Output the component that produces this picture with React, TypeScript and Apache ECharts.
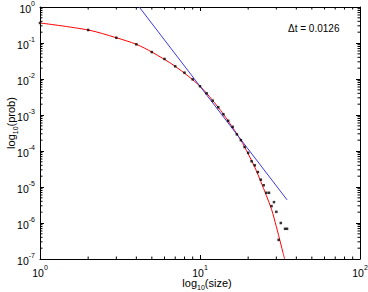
import React, { useEffect, useRef } from "react";
import * as echarts from "echarts";

const sizes = [1, 2, 3, 4, 5, 6, 7, 8, 9, 10, 11, 12, 13, 14, 15, 16, 17, 18, 19, 20, 21, 22, 23, 24, 25, 26, 27, 28, 29, 30, 31, 32, 34, 35];
const probs = [0.36, 0.23, 0.14, 0.092, 0.056, 0.036, 0.0225, 0.015, 0.0098, 0.0063, 0.004, 0.0025, 0.00164, 0.00105, 6.9e-4, 4.7e-4, 2.9e-4, 2.0e-4, 1.29e-4, 8.9e-5, 5.2e-5, 4.0e-5, 2.6e-5, 1.6e-5, 1.12e-5, 6.9e-6, 6.9e-6, 2.95e-6, 3.8e-6, 2.04e-6, 3.4e-7, 1.0e-6, 6.9e-7, 6.9e-7];

const fitX = [1, 2, 3, 4, 5, 7, 10, 13, 15, 18, 20, 22, 24, 26, 28, 30, 32, 33, 33.8];
const fitY = [0.36, 0.23, 0.14, 0.092, 0.056, 0.0225, 0.0063, 0.00163, 6.8e-4, 2.0e-4, 8.3e-5, 3.55e-5, 1.41e-5, 5.75e-6, 2.4e-6, 7.9e-7, 2.6e-7, 1.5e-7, 1.0e-7];

const powX = [4.17, 35];
const powY = [1, 4.4e-6];

const xMinorTicks = [2, 3, 4, 5, 6, 7, 8, 9, 20, 30, 40, 50, 60, 70, 80, 90];
const yDecades = [1e-7, 1e-6, 1e-5, 1e-4, 1e-3, 1e-2, 1e-1];
const yMinorMult = [2, 3, 4, 5, 6, 7, 8, 9];

const dtLabel = "\u0394t = 0.0126";
const xName = "{n|log}{sub|10}{n|(size)}";
const yName = "{n|log}{sub|10}{n|(prob)}";

const FONT = "Liberation Sans";

export default function App() {
  const ref = useRef<HTMLDivElement>(null);
  useEffect(() => {
    if (!ref.current) return;
    const chart = echarts.init(ref.current, undefined, { renderer: "svg" });
    const yMinor: number[][] = [];
    yDecades.forEach((d) => yMinorMult.forEach((m) => yMinor.push([1, d * m])));
    const rich = {
      b: { fontSize: 10.5, fontFamily: FONT, color: "#000", lineHeight: 14, verticalAlign: "bottom" },
      s: { fontSize: 7, fontFamily: FONT, color: "#000", lineHeight: 14, padding: [0, 0, 7, 0], verticalAlign: "bottom" },
    };
    const expFmt = (v: number) => {
      const e = Math.round(Math.log10(v));
      return `{b|10}{s|${e}}`;
    };
    const nameRich = {
      n: { fontSize: 11, fontFamily: FONT, fill: "#000", lineHeight: 14, verticalAlign: "bottom" },
      sub: { fontSize: 7, fontFamily: FONT, fill: "#000", lineHeight: 14, padding: [0, 0, -3, 0], verticalAlign: "bottom" },
    };
    const axisCommon = {
      type: "log" as const,
      logBase: 10,
      axisLine: { show: true, lineStyle: { color: "#000", width: 1 } },
      axisTick: { show: true, inside: true, length: 4, lineStyle: { color: "#000" } },
      splitLine: { show: false },
    };
    chart.setOption({
      animation: false,
      backgroundColor: "#fff",
      grid: { left: 40, right: 8, top: 7, bottom: 33, show: false, containLabel: false, outerBoundsMode: "none" },
      xAxis: [
        {
          ...axisCommon,
          min: 1,
          max: 100,
          position: "bottom",
          axisLabel: { formatter: expFmt, rich, margin: 5, align: "center" },
        },
        {
          ...axisCommon,
          min: 1,
          max: 100,
          position: "top",
          axisLabel: { show: false },
        },
      ],
      yAxis: [
        {
          ...axisCommon,
          min: 1e-7,
          max: 1,
          position: "left",
          axisLabel: { formatter: expFmt, rich, margin: 5 },
        },
        {
          ...axisCommon,
          min: 1e-7,
          max: 1,
          position: "right",
          axisLabel: { show: false },
        },
      ],
      series: [
        {
          type: "line",
          data: fitX.map((x, i) => [x, fitY[i]]),
          smooth: 0.3,
          showSymbol: false,
          lineStyle: { color: "#ff0000", width: 1 },
          clip: true,
          z: 2,
        },
        {
          type: "line",
          data: powX.map((x, i) => [x, powY[i]]),
          showSymbol: false,
          lineStyle: { color: "#3a3ae6", width: 1 },
          clip: true,
          z: 2,
        },
        {
          type: "scatter",
          data: sizes.map((x, i) => [x, probs[i]]),
          symbol: "rect",
          symbolSize: 2.5,
          itemStyle: { color: "#000" },
          z: 3,
        },
        {
          type: "custom",
          data: xMinorTicks.map((v) => [v, 1]),
          renderItem: (params: any, api: any) => {
            const cs = params.coordSys;
            const x = api.coord([api.value(0), 1])[0];
            const top = cs.y;
            const bot = cs.y + cs.height;
            return {
              type: "group",
              children: [
                { type: "line", shape: { x1: x, y1: bot, x2: x, y2: bot - 2.5 }, style: { stroke: "#000", lineWidth: 1 } },
                { type: "line", shape: { x1: x, y1: top, x2: x, y2: top + 2.5 }, style: { stroke: "#000", lineWidth: 1 } },
              ],
            };
          },
          silent: true,
          z: 4,
        },
        {
          type: "custom",
          data: yMinor,
          renderItem: (params: any, api: any) => {
            const cs = params.coordSys;
            const y = api.coord([1, api.value(1)])[1];
            const l = cs.x;
            const r = cs.x + cs.width;
            return {
              type: "group",
              children: [
                { type: "line", shape: { x1: l, y1: y, x2: l + 2.5, y2: y }, style: { stroke: "#000", lineWidth: 1 } },
                { type: "line", shape: { x1: r, y1: y, x2: r - 2.5, y2: y }, style: { stroke: "#000", lineWidth: 1 } },
              ],
            };
          },
          silent: true,
          z: 4,
        },
      ],
      graphic: [
        {
          type: "text",
          left: 288,
          top: 23,
          style: { text: dtLabel, fontSize: 10, fontFamily: FONT, fill: "#000" },
        },
        {
          type: "text",
          x: 207,
          y: 281,
          style: { text: xName, rich: nameRich, align: "center", verticalAlign: "middle" },
        },
        {
          type: "text",
          x: 9,
          y: 123,
          rotation: Math.PI / 2,
          style: { text: yName, rich: nameRich, align: "center", verticalAlign: "middle" },
        },
      ],
    });
    return () => chart.dispose();
  }, []);
  return <div ref={ref} style={{ position: "fixed", left: 0, top: 0, width: 368, height: 292 }} />;
}
